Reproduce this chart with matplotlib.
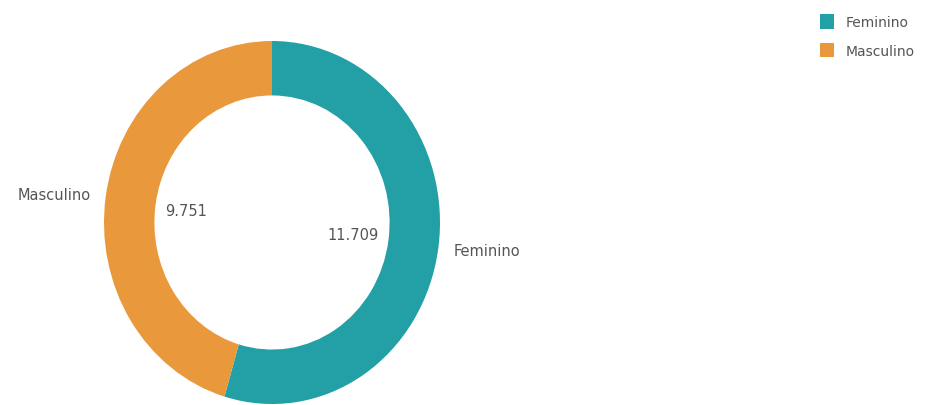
import numpy as np
import matplotlib
matplotlib.use("Agg")
import matplotlib.pyplot as plt

categorias = ["Feminino", "Masculino"]
valores = [11709, 9751]
rotulos_valor = ["11.709", "9.751"]
cores = ["#22a0a5", "#ea983c"]

plt.rcParams['font.family'] = ['Liberation Sans Narrow', 'DejaVu Sans']
cor_texto = "#555555"

fig = plt.figure(figsize=(9.26, 4.06), dpi=100)
# eixo do donut (elipse levemente esticada na vertical, como no original)
ax = fig.add_axes([104 / 926, 1 / 406, 336 / 926, 363 / 406])
wedges, _ = ax.pie(valores, colors=cores, startangle=90, counterclock=False,
                   radius=1, wedgeprops=dict(width=0.30, linewidth=0))
ax.set_xlim(-1, 1)
ax.set_ylim(-1, 1)
ax.set_aspect('auto')
ax.axis('off')

for w, nome, rot in zip(wedges, categorias, rotulos_valor):
    ang = np.deg2rad((w.theta1 + w.theta2) / 2)
    c, s = np.cos(ang), np.sin(ang)
    fora = 'left' if c > 0 else 'right'
    dentro = 'right' if c > 0 else 'left'
    ax.text(1.09 * c, 1.09 * s, nome, ha=fora, va='center', fontsize=10.5,
            color=cor_texto, clip_on=False)
    ax.text(0.64 * c, 0.46 * s, rot, ha=dentro, va='center', fontsize=10.5,
            color=cor_texto, clip_on=False)

fig.legend(wedges, categorias, loc='upper left', bbox_to_anchor=(0.8715, 0.993),
           frameon=False, handlelength=1.05, handleheight=1.25, handletextpad=0.8,
           labelspacing=0.95, fontsize=10, labelcolor=cor_texto)

fig.savefig("out.png", dpi=100)
